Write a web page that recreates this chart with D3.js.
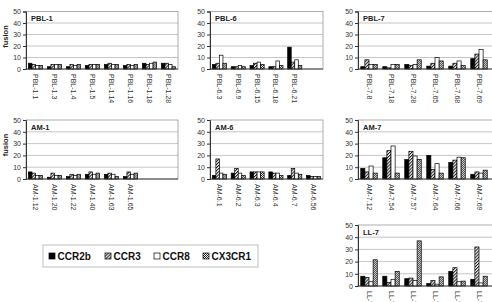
<!DOCTYPE html>
<html>
<head>
<meta charset="utf-8">
<script src="https://cdn.jsdelivr.net/npm/d3@7"></script>
<style>
  body { margin: 0; background: #fff; }
  svg { display: block; font-family: "Liberation Sans", Arial, sans-serif; }
</style>
</head>
<body>
<div id="chart"></div>
<script>
// series + axis
const seriesNames = ["CCR2b", "CCR3", "CCR8", "CX3CR1"];
const yTicks = [0, 10, 20, 30, 40, 50];

// values per category: [CCR2b, CCR3, CCR8, CX3CR1]
const pbl1Cats = ["PBL-1.1", "PBL-1.3", "PBL-1.4", "PBL-1.5", "PBL-1.14", "PBL-1.16", "PBL-1.18", "PBL-1.28"];
const pbl1Vals = [[5, 4, 3, 3], [2, 4, 4, 4], [2, 4, 3, 4], [3, 4, 4, 4], [4, 5, 4, 4], [3, 4, 3, 4], [5, 4, 5, 6], [5, 5, 4, 2]];

const pbl6Cats = ["PBL-6.3", "PBL-6.9", "PBL-6.15", "PBL-6.18", "PBL-6.21"];
const pbl6Vals = [[4, 5, 12, 5], [2, 2, 3, 2], [3, 5, 6, 4], [2, 2, 7, 3], [19, 6, 8, 3]];

const pbl7Cats = ["PBL-7.8", "PBL-7.18", "PBL-7.28", "PBL-7.65", "PBL-7.68", "PBL-7.69"];
const pbl7Vals = [[2, 8, 4, 4], [2, 1, 4, 4], [4, 3, 4, 8], [2.5, 5, 10, 7], [2.5, 5, 7, 3], [9, 13, 17, 8]];

const am1Cats = ["AM-1.12", "AM-1.20", "AM-1.22", "AM-1.40", "AM-1.63", "AM-1.65"];
const am1Vals = [[6, 5, 3, 3], [1.5, 5, 3, 3], [2, 4, 3, 4], [4, 6, 4, 5], [4, 5, 4, 2], [2, 6, 4, 5]];

const am6Cats = ["AM-6.1", "AM-6.2", "AM-6.3", "AM-6.4", "AM-6.7", "AM-6.56"];
const am6Vals = [[3, 17, 5, 4], [5, 9, 5, 3], [6, 6, 6, 6], [6, 5, 5, 3], [3, 9, 5, 4], [3, 2, 2, 2]];

const am7Cats = ["AM-7.12", "AM-7.54", "AM-7.57", "AM-7.64", "AM-7.66", "AM-7.69"];
const am7Vals = [[9, 6, 11, 5], [18, 24, 28, 5], [16.5, 23.5, 19.5, 16.5], [20, 8, 13, 5], [14, 16, 18.5, 18], [4, 6, 5, 7.5]];

const ll7Cats = ["LL-7.1", "LL-7.2", "LL-7.3", "LL-7.4", "LL-7.5", "LL-7.6"];
const ll7Vals = [[8, 7, 3.5, 21.5], [8, 3, 5.5, 12], [6, 6.5, 4.5, 37], [2, 4.5, 1.5, 7.5], [12, 15, 3.5, 4], [5.5, 32, 2.5, 8]];

// panel layout
const panels = [
  { title: "PBL-1", cats: pbl1Cats, vals: pbl1Vals, slots: 8, x0: 26, x1: 178, y0: 11.5, y1: 69, ylab: true },
  { title: "PBL-6", cats: pbl6Cats, vals: pbl6Vals, slots: 6, x0: 210, x1: 323, y0: 11.5, y1: 69 },
  { title: "PBL-7", cats: pbl7Cats, vals: pbl7Vals, slots: 6, x0: 358, x1: 490, y0: 11.5, y1: 69, open: true },
  { title: "AM-1", cats: am1Cats, vals: am1Vals, slots: 8, x0: 26, x1: 178, y0: 120, y1: 179, ylab: true },
  { title: "AM-6", cats: am6Cats, vals: am6Vals, slots: 6, x0: 210, x1: 323, y0: 120, y1: 179 },
  { title: "AM-7", cats: am7Cats, vals: am7Vals, slots: 6, x0: 358, x1: 490, y0: 120, y1: 179, open: true },
  { title: "LL-7", cats: ll7Cats, vals: ll7Vals, slots: 6, x0: 358, x1: 490, y0: 225, y1: 286, open: true }
];

const W = 492, H = 302;
const svg = d3.select("#chart").append("svg")
  .attr("width", W).attr("height", H);

// fill patterns
const defs = svg.append("defs");
const hatch = defs.append("pattern")
  .attr("id", "hatch").attr("patternUnits", "userSpaceOnUse")
  .attr("width", 2.2).attr("height", 2.2)
  .attr("patternTransform", "rotate(45)");
hatch.append("rect").attr("width", 2.2).attr("height", 2.2).attr("fill", "#fff");
hatch.append("line").attr("x1", 0.5).attr("y1", 0).attr("x2", 0.5).attr("y2", 2.2)
  .attr("stroke", "#000").attr("stroke-width", 0.9);

const check = defs.append("pattern")
  .attr("id", "check").attr("patternUnits", "userSpaceOnUse")
  .attr("width", 2).attr("height", 2);
check.append("rect").attr("width", 2).attr("height", 2).attr("fill", "#fff");
check.append("rect").attr("width", 1).attr("height", 1).attr("fill", "#222");
check.append("rect").attr("x", 1).attr("y", 1).attr("width", 1).attr("height", 1).attr("fill", "#222");

const fills = ["#000", "url(#hatch)", "#fff", "url(#check)"];

function drawPanel(p) {
  const g = svg.append("g");

  const x = d3.scaleBand()
    .domain(d3.range(p.slots))
    .range([p.x0, p.x1])
    .paddingInner(0.25)
    .paddingOuter(0.125);
  const xs = d3.scaleBand()
    .domain(seriesNames)
    .range([0, x.bandwidth()]);
  const y = d3.scaleLinear().domain([0, 50]).range([p.y1, p.y0]);

  const right = p.open ? W + 5 : p.x1;

  // gridlines
  g.append("g").selectAll("line")
    .data(yTicks.slice(1, -1))
    .enter().append("line")
    .attr("x1", p.x0).attr("x2", right)
    .attr("y1", d => y(d)).attr("y2", d => y(d))
    .attr("stroke", "#b8b8b8").attr("stroke-width", 0.8);

  // plot frame
  g.append("rect")
    .attr("x", p.x0).attr("y", p.y0)
    .attr("width", right - p.x0).attr("height", p.y1 - p.y0)
    .attr("fill", "none").attr("stroke", "#9a9a9a").attr("stroke-width", 0.8);

  // y axis
  const yAxis = g.append("g")
    .attr("transform", "translate(" + p.x0 + ",0)")
    .call(d3.axisLeft(y).tickValues(yTicks).tickSize(3).tickPadding(2));
  yAxis.select(".domain").attr("stroke", "#333");
  yAxis.selectAll(".tick line").attr("stroke", "#333");
  yAxis.selectAll("text").attr("font-size", 7).attr("fill", "#333")
    .attr("font-family", "Liberation Sans, Arial, sans-serif");

  // bars
  const groups = g.append("g").selectAll("g")
    .data(p.vals)
    .enter().append("g")
    .attr("transform", (d, i) => "translate(" + x(i) + ",0)");
  groups.selectAll("rect")
    .data(d => d.map((v, k) => ({ v: v, k: k })))
    .enter().append("rect")
    .attr("x", d => xs(seriesNames[d.k]))
    .attr("y", d => y(d.v))
    .attr("width", xs.bandwidth())
    .attr("height", d => y(0) - y(d.v))
    .attr("fill", d => fills[d.k])
    .attr("stroke", "#000")
    .attr("stroke-width", 0.7);

  // x baseline
  g.append("line")
    .attr("x1", p.x0).attr("x2", right)
    .attr("y1", y(0)).attr("y2", y(0))
    .attr("stroke", "#333").attr("stroke-width", 0.9);

  // category labels, rotated
  g.append("g").selectAll("text")
    .data(p.cats)
    .enter().append("text")
    .attr("transform", (d, i) => "translate(" + (x(i) + x.bandwidth() / 2 - 2.5) + "," + (p.y1 + 5) + ") rotate(90)")
    .attr("font-size", 7)
    .attr("fill", "#333")
    .text(d => d);

  // panel title
  g.append("text")
    .attr("x", p.x0 + 5).attr("y", p.y0 + 9.5)
    .attr("font-size", 7.5).attr("font-weight", "bold").attr("fill", "#222")
    .text(p.title);

  if (p.ylab) {
    g.append("text")
      .attr("transform", "translate(8," + (p.y0 + 25) + ") rotate(-90)")
      .attr("text-anchor", "middle")
      .attr("font-size", 7.5).attr("font-weight", "bold").attr("fill", "#222")
      .text("fusion");
  }
}

panels.forEach(drawPanel);

// legend
const legend = svg.append("g");
legend.append("rect")
  .attr("x", 43).attr("y", 245).attr("width", 215).attr("height", 22)
  .attr("fill", "#fff").attr("stroke", "#b0b0b0").attr("stroke-width", 0.8);
const legendX = [49, 105, 154, 203];
seriesNames.forEach((s, i) => {
  legend.append("rect")
    .attr("x", legendX[i]).attr("y", 253).attr("width", 6).attr("height", 6)
    .attr("fill", fills[i]).attr("stroke", "#000").attr("stroke-width", 0.7);
  legend.append("text")
    .attr("x", legendX[i] + 8.5).attr("y", 259.5)
    .attr("font-size", 10).attr("font-weight", "bold").attr("fill", "#111")
    .text(s);
});
</script>
</body>
</html>
